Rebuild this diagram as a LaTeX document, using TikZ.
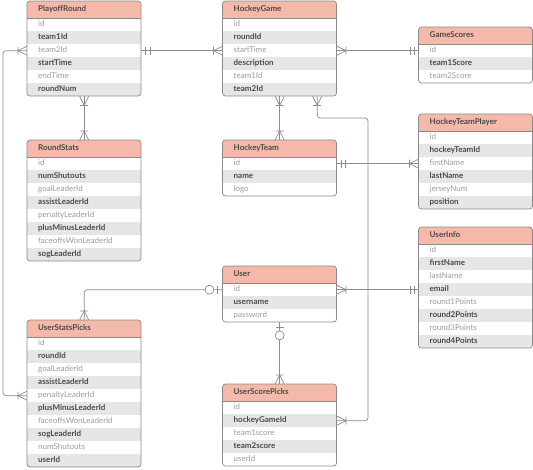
\documentclass[tikz,border=0pt]{standalone}
\usepackage{fontspec}
\setmainfont{Lato}
\usetikzlibrary{calc}
\definecolor{hdrfill}{HTML}{F5B9A9}
\definecolor{rowgray}{HTML}{E6E6E6}
\definecolor{edgec}{HTML}{8A8A8A}
\definecolor{linec}{HTML}{8C8C8C}
\definecolor{darktxt}{HTML}{4A4A4A}
\definecolor{lighttxt}{HTML}{9C9C9C}
\tikzset{
 cell/.style={anchor=north west, inner xsep=11pt, inner ysep=0pt, text width=92pt,
   minimum height=13pt, text height=5.8pt, text depth=1.6pt, font=\fontsize{8}{9}\selectfont},
 rowb/.style={cell, fill=rowgray, text=darktxt, font=\fontsize{8}{9}\selectfont\bfseries},
 rown/.style={cell, text=lighttxt},
 hdr/.style={cell, minimum height=17pt, fill=hdrfill, text=darktxt, font=\fontsize{8}{9}\selectfont\bfseries},
 conn/.style={draw=linec, line width=0.7pt, rounded corners=3pt},
 boxedge/.style={draw=edgec, line width=0.7pt},
 crowfoot/.pic={\draw[linec, line width=0.7pt] (0,4.5)--(9,0)--(0,-4.5) (9,-4)--(9,4);},
 onebar/.pic={\draw[linec, line width=0.7pt] (4,-4)--(4,4) (8.5,-4)--(8.5,4);},
 zeroone/.pic={\draw[linec, line width=0.7pt] (5,-4)--(5,4); \draw[linec, line width=0.7pt, fill=white] (13,0) circle (4.5);}
}
\newcommand\entity[6]{%
 \begin{scope}
  \clip[rounded corners=3pt] (#2,#3) rectangle ++(114,{17+13*#4});
  \node[hdr] (#1) at (#2,#3) {#5};
  \foreach[count=\i] \txt/\st in {#6} {\node[row\st] (#1-\i) at ({#2},{#3+17+13*(\i-1)}) {\txt};}
 \end{scope}
 \draw[boxedge, rounded corners=3pt] (#2,#3) rectangle ++(114,{17+13*#4});
 \draw[boxedge, line width=0.5pt] (#1.south west) -- (#1.south east);
}
\begin{document}
\begin{tikzpicture}[x=1pt,y=-1pt]
\useasboundingbox[fill=white] (0,0) rectangle (533,469);

\entity{PR}{27}{1}{6}{PlayoffRound}{id/n, team1Id/b, team2Id/n, startTime/b, endTime/n, roundNum/b}
\entity{HG}{222.5}{1}{6}{HockeyGame}{id/n, roundId/b, startTime/n, description/b, team1Id/n, team2Id/b}
\entity{GS}{418.5}{27}{3}{GameScores}{id/n, team1Score/b, team2Score/n}
\entity{HTP}{418.5}{114}{6}{HockeyTeamPlayer}{id/n, hockeyTeamId/b, firstName/n, lastName/b, jerseyNum/n, position/b}
\entity{HT}{222.5}{140}{3}{HockeyTeam}{id/n, name/b, logo/n}
\entity{RS}{27}{140}{8}{RoundStats}{id/n, numShutouts/b, goalLeaderId/n, assistLeaderId/b, penaltyLeaderId/n, plusMinusLeaderId/b, faceoffsWonLeaderId/n, sogLeaderId/b}
\entity{UI}{418.5}{227}{8}{UserInfo}{id/n, firstName/b, lastName/n, email/b, round1Points/n, round2Points/b, round3Points/n, round4Points/b}
\entity{U}{222.5}{266}{3}{User}{id/n, username/b, password/n}
\entity{USTP}{27}{320}{10}{UserStatsPicks}{id/n, roundId/b, goalLeaderId/n, assistLeaderId/b, penaltyLeaderId/n, plusMinusLeaderId/b, faceoffsWonLeaderId/n, sogLeaderId/b, numShutouts/n, userId/b}
\entity{USC}{222.5}{384}{5}{UserScorePicks}{id/n, hockeyGameId/b, team1score/n, team2score/b, userId/n}

\coordinate (railA) at (368,118);
\coordinate (railL) at (3,50);
\coordinate (hgout) at ($(HG-6.south)+(37.5,0)$);

% connectors
\draw[conn] (PR-3.east) -- (HG-3.west);
\draw[conn] (HG-3.east) -- (GS-1.west);
\draw[conn] (PR-6.south) -- (RS.north);
\draw[conn] (HG-6.south) -- (HT.north);
\draw[conn] (hgout) |- (railA) |- (USC-2.east);
\draw[conn] (HT-1.east) -- (HT-1.east -| HTP-3.west);
\draw[conn] (U-1.east) -- (UI-4.west);
\draw[conn] (U-1.west) -| (USTP.north);
\draw[conn] (U-3.south) -- (USC.north);
\draw[conn] (PR-3.west) -- (PR-3.west -| railL) |- (USTP-5.west);

% markers
\pic at (PR-3.east) {onebar};
\pic[rotate=180] at (HG-3.west) {crowfoot};
\pic at (HG-3.east) {crowfoot};
\pic[rotate=180] at (GS-1.west) {onebar};
\pic[rotate=-90] at (PR-6.south) {crowfoot};
\pic[rotate=90] at (RS.north) {crowfoot};
\pic[rotate=-90] at (HG-6.south) {crowfoot};
\pic[rotate=90] at (HT.north) {crowfoot};
\pic[rotate=-90] at (hgout) {crowfoot};
\pic at (USC-2.east) {crowfoot};
\pic at (HT-1.east) {onebar};
\pic[rotate=180] at (HT-1.east -| HTP-3.west) {crowfoot};
\pic at (U-1.east) {crowfoot};
\pic[rotate=180] at (UI-4.west) {onebar};
\pic[rotate=180] at (U-1.west) {zeroone};
\pic[rotate=90] at (USTP.north) {crowfoot};
\pic[rotate=-90] at (U-3.south) {zeroone};
\pic[rotate=90] at (USC.north) {crowfoot};
\pic[rotate=180] at (PR-3.west) {crowfoot};
\pic[rotate=180] at (USTP-5.west) {crowfoot};
\end{tikzpicture}
\end{document}
